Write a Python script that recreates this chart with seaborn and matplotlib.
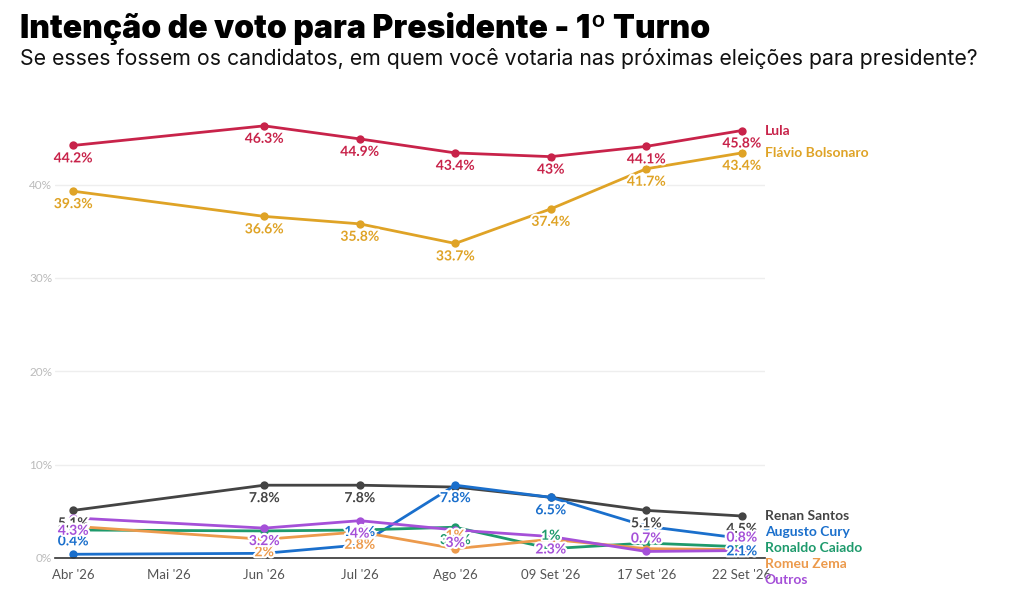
import matplotlib
matplotlib.use('Agg')
import matplotlib.pyplot as plt
import matplotlib.patheffects as pe
import pandas as pd
import seaborn as sns

categorias = ["Abr '26", "Mai '26", "Jun '26", "Jul '26", "Ago '26",
              "09 Set '26", "17 Set '26", "22 Set '26"]
# posições das pesquisas no eixo (Mai '26 sem pesquisa)
pesquisas = ["Abr '26", "Jun '26", "Jul '26", "Ago '26",
             "09 Set '26", "17 Set '26", "22 Set '26"]

lula = [44.2, 46.3, 44.9, 43.4, 43.0, 44.1, 45.8]
flavio = [39.3, 36.6, 35.8, 33.7, 37.4, 41.7, 43.4]
renan = [5.1, 7.8, 7.8, 7.6, 6.5, 5.1, 4.5]
cury = [0.4, 0.5, 1.4, 7.8, 6.5, 3.4, 2.1]
caiado = [3.0, 2.9, 3.0, 3.3, 1.0, 1.6, 1.2]
zema = [3.4, 2.0, 2.8, 1.0, 2.0, 1.0, 0.9]
outros = [4.3, 3.2, 4.0, 3.0, 2.3, 0.7, 0.8]

series = {
    'Lula': lula,
    'Flávio Bolsonaro': flavio,
    'Renan Santos': renan,
    'Augusto Cury': cury,
    'Ronaldo Caiado': caiado,
    'Romeu Zema': zema,
    'Outros': outros,
}
cores = {
    'Lula': '#c8234a',
    'Flávio Bolsonaro': '#dfa326',
    'Renan Santos': '#444444',
    'Augusto Cury': '#1a6fcc',
    'Ronaldo Caiado': '#1e9a6c',
    'Romeu Zema': '#ec9a4c',
    'Outros': '#a550d8',
}
# rótulos escondidos por sobreposição no original
ocultos = {
    'Renan Santos': [3, 4],
    'Augusto Cury': [1, 5],
    'Ronaldo Caiado': [0, 1, 2, 5, 6],
    'Romeu Zema': [0, 4, 5, 6],
}

rows = []
for nome, vals in series.items():
    for cat, v in zip(pesquisas, vals):
        rows.append({'candidato': nome, 'pos': categorias.index(cat), 'valor': v})
df = pd.DataFrame(rows)

sns.set_style('white')
plt.rcParams['font.family'] = ['Lato', 'DejaVu Sans']

fig = plt.figure(figsize=(10.27, 6), dpi=100)
ax = fig.add_axes([0.0536, 0.07, 0.691, 0.7467])

sns.lineplot(data=df, x='pos', y='valor', hue='candidato', palette=cores,
             hue_order=list(series.keys()), marker='o', markersize=6,
             markeredgewidth=0, linewidth=2, legend=False, ax=ax)

halo = [pe.withStroke(linewidth=3, foreground='white')]
for nome, vals in series.items():
    for i, (cat, v) in enumerate(zip(pesquisas, vals)):
        if i in ocultos.get(nome, []):
            continue
        # abaixo do ponto, mas acima quando encostaria no eixo
        if v < 1.8:
            off, va = 5, 'bottom'
        else:
            off, va = -5, 'top'
        ax.annotate(f'{v:g}%', (categorias.index(cat), v), xytext=(0, off),
                    textcoords='offset points', ha='center', va=va,
                    fontsize=10, fontweight='bold', color=cores[nome],
                    path_effects=halo, zorder=5)

# nomes no fim das linhas, empilhados para não sobrepor
ultimo_x = categorias.index(pesquisas[-1])
passo = 1.72
ordem = sorted(series.keys(), key=lambda n: -series[n][-1])
alvo = [series[n][-1] for n in ordem]
ys = []
for i, v in enumerate(alvo):
    ys.append(v if i == 0 else min(v, ys[-1] - passo))
# recentra grupos empurrados em torno da média, sem subir sobre o anterior
i = 0
while i < len(ys):
    j = i + 1
    while j < len(ys) and abs(ys[j - 1] - passo - ys[j]) < 1e-9:
        j += 1
    if j - i > 1:
        desl = sum(alvo[i:j]) / (j - i) - sum(ys[i:j]) / (j - i)
        if i > 0:
            desl = min(desl, ys[i - 1] - passo - ys[i])
        desl = max(desl, 0)
        for k in range(i, j):
            ys[k] += desl
    i = j
for nome, y in zip(ordem, ys):
    ax.text(ultimo_x + 0.24, y, nome, ha='left', va='center', fontsize=10,
            fontweight='bold', color=cores[nome], clip_on=False)

ax.set_xlim(-0.19, 7.24)
ax.set_ylim(0, 48)
ax.set_xticks(range(len(categorias)))
ax.set_xticklabels(categorias)
ax.set_yticks([0, 10, 20, 30, 40])
ax.set_yticklabels(['0%', '10%', '20%', '30%', '40%'])
ax.tick_params(axis='y', length=0, labelsize=8.5, labelcolor='#bbbbbb', pad=2)
ax.tick_params(axis='x', length=5, width=1, color='#333333', labelsize=9.5,
               labelcolor='#555555', pad=3)
ax.yaxis.grid(True, color='#eeeeee', linewidth=1)
ax.set_xlabel('')
ax.set_ylabel('')
for s in ['top', 'right', 'left']:
    ax.spines[s].set_visible(False)
ax.spines['bottom'].set_color('#333333')
ax.spines['bottom'].set_linewidth(1.2)

fig.text(0.019, 0.953, 'Intenção de voto para Presidente - 1º Turno',
         fontsize=23, fontweight=900, family=['Inter', 'DejaVu Sans'],
         color='black', va='center')
fig.text(0.019, 0.902,
         'Se esses fossem os candidatos, em quem você votaria nas próximas eleições para presidente?',
         fontsize=15.3, family=['Inter', 'DejaVu Sans'], color='#111111', va='center')

fig.savefig('out.png', dpi=100)
